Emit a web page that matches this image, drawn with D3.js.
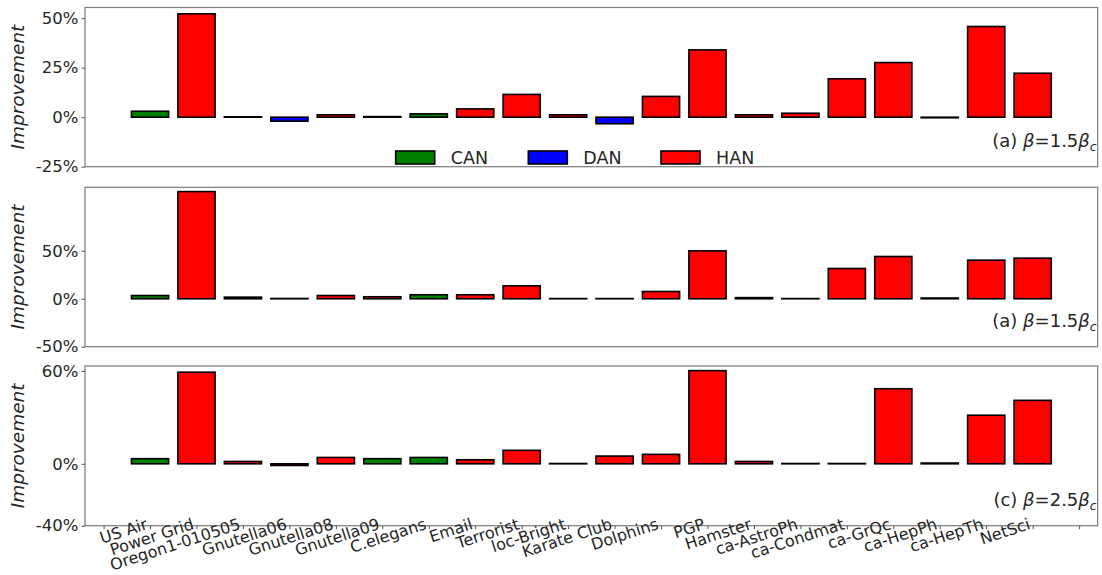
<!DOCTYPE html>
<html>
<head>
<meta charset="utf-8">
<script src="https://cdn.jsdelivr.net/npm/d3@7/dist/d3.min.js"></script>
<style>
  html, body { margin: 0; padding: 0; background: #fff; }
  svg { display: block; }
  text { font-family: "DejaVu Sans", sans-serif; fill: #262626; }
</style>
</head>
<body>
<svg id="chart" width="1102" height="575"></svg>
<script>
// ---------------- data ----------------
const categories = ["US Air", "Power Grid", "Oregon1-010505", "Gnutella06", "Gnutella08",
  "Gnutella09", "C.elegans", "Email", "Terrorist", "loc-Bright", "Karate Club", "Dolphins",
  "PGP", "Hamster", "ca-AstroPh", "ca-Condmat", "ca-GrQc", "ca-HepPh", "ca-HepTh", "NetSci"];

const methods = ["CAN", "DAN", "HAN"];

// panel (a) beta = 1.5 beta_c  (top)
const valuesA = [3.0, 52.2, 0.2, -2.0, 1.2, 0.3, 1.7, 4.2, 11.5, 1.2, -3.3, 10.5, 34.0, 1.2, 2.0, 19.4, 27.6, -0.3, 45.8, 22.2];
const bestA   = ["CAN","HAN","HAN","DAN","HAN","HAN","CAN","HAN","HAN","HAN","DAN","HAN","HAN","HAN","HAN","HAN","HAN","HAN","HAN","HAN"];

// panel (a) beta = 1.5 beta_c  (middle)
const valuesB = [3.4, 111.8, 1.7, 0.3, 3.4, 2.1, 4.2, 4.2, 13.5, 0.2, 0.2, 7.6, 50.0, 1.2, 0.2, 31.6, 44.1, 0.8, 40.3, 42.4];
const bestB   = ["CAN","HAN","HAN","HAN","HAN","HAN","CAN","HAN","HAN","HAN","HAN","HAN","HAN","HAN","HAN","HAN","HAN","HAN","HAN","HAN"];

// panel (c) beta = 2.5 beta_c  (bottom)
const valuesC = [3.3, 59.2, 1.5, -1.1, 4.1, 3.3, 4.1, 2.6, 8.7, 0.2, 5.0, 6.1, 60.2, 1.5, 0.2, 0.2, 48.5, 0.5, 31.4, 41.0];
const bestC   = ["CAN","HAN","HAN","HAN","HAN","CAN","CAN","HAN","HAN","HAN","HAN","HAN","HAN","HAN","HAN","HAN","HAN","HAN","HAN","HAN"];

const ticksA = [-25, 0, 25, 50];
const ticksB = [-50, 0, 50];
const ticksC = [-40, 0, 60];

const labelA = {pre: "(a) ", num: "1.5"};
const labelB = {pre: "(a) ", num: "1.5"};
const labelC = {pre: "(c) ", num: "2.5"};

// ---------------- layout ----------------
const colorOf = d3.scaleOrdinal().domain(methods).range(["#008000", "#0000ff", "#ff0000"]);
const svg = d3.select("#chart");
const L = 85, R = 1097.7;
const x = d3.scaleLinear().domain([-1.4, categories.length + 0.4]).range([L, R]);
const barHalf = 0.4;

const panels = [
  {top: 7.5,   bottom: 166.7, domain: [-25, 55.4],  values: valuesA, best: bestA, ticks: ticksA, label: labelA, labelY: 147},
  {top: 187.3, bottom: 346.7, domain: [-50, 116.3], values: valuesB, best: bestB, ticks: ticksB, label: labelB, labelY: 327},
  {top: 366,   bottom: 525.7, domain: [-40, 63.2],  values: valuesC, best: bestC, ticks: ticksC, label: labelC, labelY: 506}
];

panels.forEach((p, pi) => {
  const y = d3.scaleLinear().domain(p.domain).range([p.bottom, p.top]);
  const g = svg.append("g");

  // bars
  g.selectAll("rect.bar").data(p.values).join("rect")
    .attr("class", "bar")
    .attr("x", (d, i) => x(i - barHalf))
    .attr("width", (d, i) => x(i + barHalf) - x(i - barHalf))
    .attr("y", d => y(Math.max(0, d)))
    .attr("height", d => Math.abs(y(d) - y(0)))
    .attr("fill", (d, i) => colorOf(p.best[i]))
    .attr("stroke", "#000")
    .attr("stroke-width", 1.6);

  // frame
  g.append("rect")
    .attr("x", L).attr("y", p.top)
    .attr("width", R - L).attr("height", p.bottom - p.top)
    .attr("fill", "none").attr("stroke", "#7a7a7a").attr("stroke-width", 1.2);

  // y axis
  const ya = d3.axisLeft(y).tickValues(p.ticks).tickFormat(d => d + "%").tickSize(3.5).tickPadding(3);
  const yg = g.append("g").attr("transform", `translate(${L},0)`).call(ya);
  yg.select(".domain").remove();
  yg.selectAll(".tick line").attr("stroke", "#555");
  yg.selectAll(".tick text").style("font-size", "16.5px").attr("fill", "#262626");

  // y label
  g.append("text")
    .attr("transform", `translate(24,${(p.top + p.bottom) / 2}) rotate(-90)`)
    .attr("text-anchor", "middle")
    .style("font-size", "18.5px").style("font-style", "italic")
    .text("Improvement");

  // panel annotation
  const t = g.append("text")
    .attr("x", R - 1).attr("y", p.labelY)
    .attr("text-anchor", "end")
    .style("font-size", "18px");
  t.append("tspan").text(p.label.pre);
  t.append("tspan").style("font-style", "italic").text("β");
  t.append("tspan").text("=" + p.label.num);
  t.append("tspan").style("font-style", "italic").text("β");
  t.append("tspan").style("font-style", "italic").style("font-size", "12.5px").attr("dy", 4).text("c");

  // x axis on last panel
  if (pi === panels.length - 1) {
    const xa = d3.axisBottom(x).tickValues(d3.range(-1, categories.length + 1))
      .tickFormat(i => categories[i] || "").tickSize(3.5);
    const xg = g.append("g").attr("transform", `translate(0,${p.bottom})`).call(xa);
    xg.select(".domain").remove();
    xg.selectAll(".tick line").attr("stroke", "#555");
    xg.selectAll(".tick text")
      .style("font-size", "16px")
      .attr("fill", "#262626")
      .attr("text-anchor", "end")
      .attr("y", 0).attr("dy", 0)
      .attr("transform", "translate(-2,3) rotate(-18)");
  }
});

// legend (top panel)
const lg = svg.append("g");
const legX = [395.7, 528.3, 661];
methods.forEach((m, i) => {
  lg.append("rect")
    .attr("x", legX[i]).attr("y", 151)
    .attr("width", 39).attr("height", 13)
    .attr("fill", colorOf(m)).attr("stroke", "#000").attr("stroke-width", 1.6);
  lg.append("text")
    .attr("x", legX[i] + 55).attr("y", 163.5)
    .style("font-size", "17.5px")
    .text(m);
});
</script>
</body>
</html>
